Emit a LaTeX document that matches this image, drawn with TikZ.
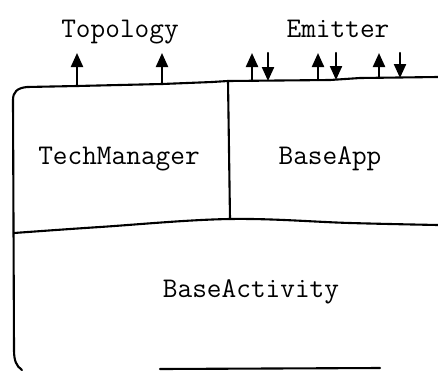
\documentclass[tikz,border=0pt]{standalone}
\usetikzlibrary{arrows.meta}
\begin{document}
\begin{tikzpicture}[x=1pt,y=-1pt, line join=round, line cap=round,
  lbl/.style={font=\fontsize{28.5}{33}\selectfont\ttfamily, inner sep=0pt, anchor=base},
  uparr/.style={-{Triangle[width=12pt,length=14pt]}, line width=2.2pt},
  edge/.style={line width=2.1pt}]
\useasboundingbox (0,0) rectangle (438,370);
% labels
\node[lbl] (topo) at (120,37) {Topology};
\node[lbl] (emit) at (338,37) {Emitter};
\node[lbl] (tech) at (119,164) {TechManager};
\node[lbl] (app) at (330,164) {BaseApp};
\node[lbl] (act) at (251,297) {BaseActivity};
% outline
\draw[edge] (22,370) .. controls (16,366) and (14,360) .. (14,350) -- (13,100)
  .. controls (13,92) and (17,88) .. (27,87) -- (77,86) -- (162,84) -- (212,82)
  -- (228,81) -- (330,80) -- (345,79) -- (360,78) -- (438,77);
\draw[edge] (160,369) -- (380,368);
\coordinate (dtop) at (228,81);
\coordinate (dbot) at (230,219);
\draw[edge] (dtop) -- (dbot);
\draw[edge] plot[smooth, tension=0.6] coordinates {(14,233) (100,227) (230,219) (350,223) (438,225)};
% arrows
\foreach \n/\x/\yb in {a/77/86, b/162/84, c/252/81, d/318/80, e/379/78}{
  \coordinate (\n0) at (\x,\yb);
  \coordinate (\n1) at (\x,53);
  \draw[uparr] (\n0) -- (\n1);
}
\foreach \n/\x/\yb in {f/268/81, g/336/80, h/400/78}{
  \coordinate (\n0) at (\x,53);
  \coordinate (\n1) at (\x,\yb);
  \draw[uparr] (\n0) -- (\n1);
}
\end{tikzpicture}
\end{document}
